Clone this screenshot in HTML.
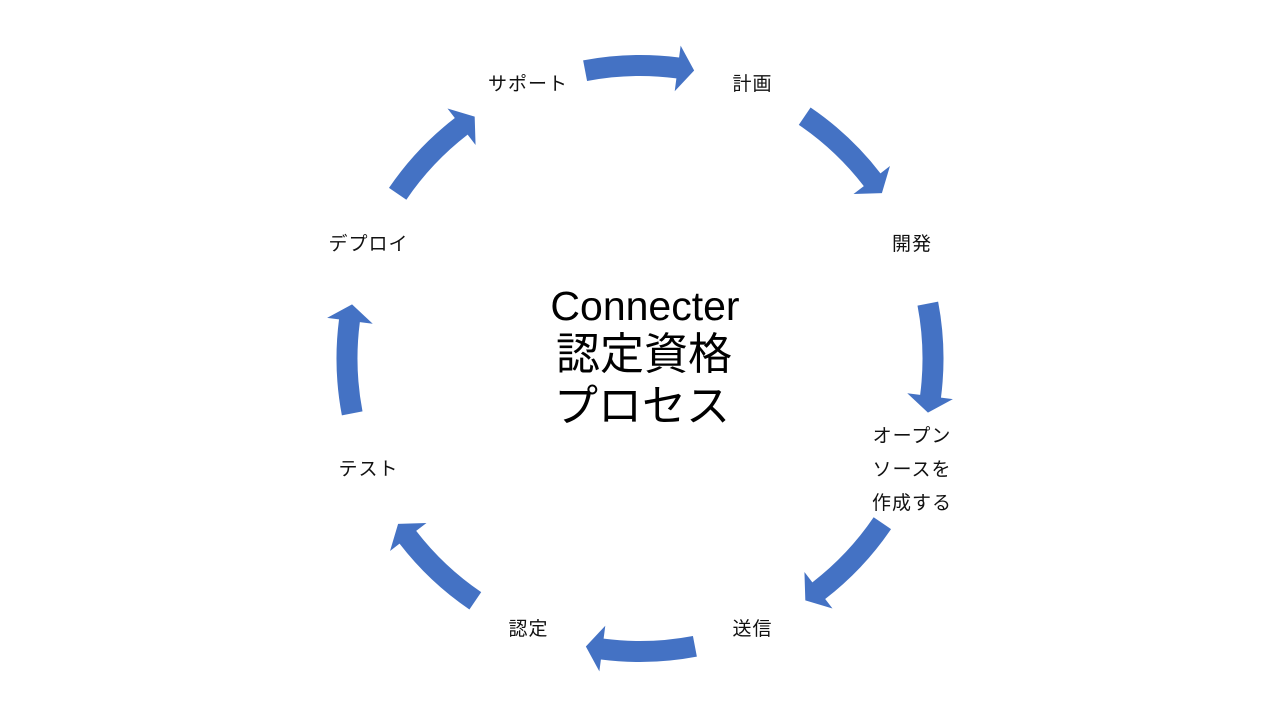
<!DOCTYPE html>
<html>
<head>
<meta charset="utf-8">
<style>
html,body{margin:0;padding:0;background:#fff;}
svg{display:block;}
.lbl{font-family:"Liberation Sans","Noto Sans CJK JP",sans-serif;font-size:19px;fill:#111;letter-spacing:1px;}
.big{font-family:"Liberation Sans","Noto Sans CJK JP",sans-serif;fill:#000;}
</style>
</head>
<body>
<svg width="1280" height="720" viewBox="0 0 1280 720" xmlns="http://www.w3.org/2000/svg">
  <defs>
    <path id="arr" d="M583.13,60.38 A303.5,303.5 0 0 1 679.09,57.53 L680.64,45.63 L694.15,70.55 L674.71,91.24 L676.39,78.35 A282.5,282.5 0 0 0 587.07,81.00 Z" fill="#4472C4"/>
  </defs>
  <use href="#arr" transform="rotate(0 640 358.5)"/>
  <use href="#arr" transform="rotate(45 640 358.5)"/>
  <use href="#arr" transform="rotate(90 640 358.5)"/>
  <use href="#arr" transform="rotate(135 640 358.5)"/>
  <use href="#arr" transform="rotate(180 640 358.5)"/>
  <use href="#arr" transform="rotate(225 640 358.5)"/>
  <use href="#arr" transform="rotate(270 640 358.5)"/>
  <use href="#arr" transform="rotate(315 640 358.5)"/>

  <text class="lbl" x="528" y="90" text-anchor="middle">サポート</text>
  <text class="lbl" x="752.5" y="90" text-anchor="middle">計画</text>
  <text class="lbl" x="912" y="250" text-anchor="middle">開発</text>
  <text class="lbl" x="912" y="442" text-anchor="middle">オープン</text>
  <text class="lbl" x="912" y="475.5" text-anchor="middle">ソースを</text>
  <text class="lbl" x="912" y="509" text-anchor="middle">作成する</text>
  <text class="lbl" x="752.5" y="635" text-anchor="middle">送信</text>
  <text class="lbl" x="528.5" y="635" text-anchor="middle">認定</text>
  <text class="lbl" x="368.5" y="475" text-anchor="middle">テスト</text>
  <text class="lbl" x="368.5" y="250" text-anchor="middle">デプロイ</text>

  <text class="big" x="645" y="320" text-anchor="middle" font-size="41">Connecter</text>
  <text class="big" x="644" y="369" text-anchor="middle" font-size="44">認定資格</text>
  <text class="big" x="642" y="421" text-anchor="middle" font-size="44">プロセス</text>
</svg>
</body>
</html>
